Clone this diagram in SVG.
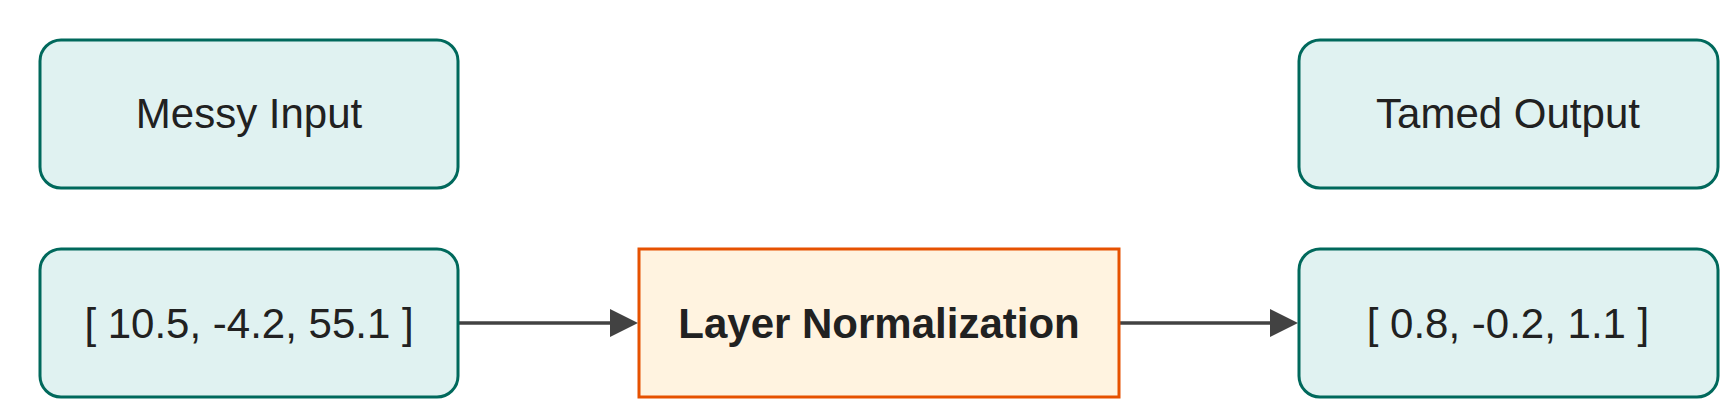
<svg xmlns="http://www.w3.org/2000/svg" width="1735" height="415" viewBox="0 0 1735 415">
<style>
.node{fill:#e0f2f1;stroke:#00695c;stroke-width:3}
.proc{fill:#fff3e0;stroke:#e65100;stroke-width:3}
.lbl{font-family:"Liberation Sans",Arial,sans-serif;font-size:42px;fill:#212121;text-anchor:middle}
.bold{font-weight:bold}
.edge{stroke:#424242;stroke-width:3.5;fill:none}
</style>
<rect width="1735" height="415" fill="#ffffff"/>
<g id="connectors">
<path class="edge" d="M458,323 L612,323"/>
<polygon points="610,309 638,323 610,337" fill="#424242"/>
<path class="edge" d="M1119,323 L1272,323"/>
<polygon points="1270,309 1298,323 1270,337" fill="#424242"/>
</g>
<g id="messy-input">
<rect class="node" x="40" y="40" width="418" height="148" rx="21"/>
<text class="lbl" x="249" y="128">Messy Input</text>
</g>
<g id="input-vector">
<rect class="node" x="40" y="249" width="418" height="148" rx="21"/>
<text class="lbl" x="249" y="338">[ 10.5, -4.2, 55.1 ]</text>
</g>
<g id="layer-norm">
<rect class="proc" x="639" y="249" width="480" height="148"/>
<text class="lbl bold" x="879" y="338">Layer Normalization</text>
</g>
<g id="tamed-output">
<rect class="node" x="1299" y="40" width="419" height="148" rx="21"/>
<text class="lbl" x="1508" y="128">Tamed Output</text>
</g>
<g id="output-vector">
<rect class="node" x="1299" y="249" width="419" height="148" rx="21"/>
<text class="lbl" x="1508" y="338">[ 0.8, -0.2, 1.1 ]</text>
</g>
</svg>
